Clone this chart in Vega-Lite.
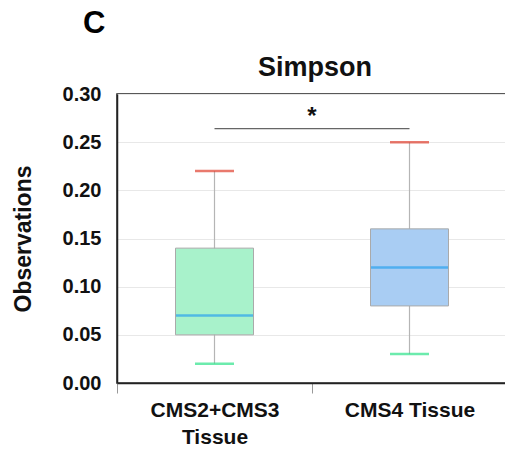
{
  "$schema": "https://vega.github.io/schema/vega-lite/v6.json",
  "autosize": "none",
  "padding": {"left": 117, "top": 94, "right": 0, "bottom": 67},
  "width": 390,
  "height": 289,
  "background": "white",
  "config": {
    "font": "Liberation Sans",
    "view": {"stroke": "#222", "strokeWidth": 1.5}
  },
  "title": {"text": "C", "anchor": "start", "frame": "group", "fontSize": 31, "fontWeight": "bold", "color": "black", "dx": -34, "offset": 14},
  "datasets": {
    "boxes": [
      {"group": "CMS2+CMS3 Tissue", "min": 0.02, "q1": 0.05, "median": 0.07, "q3": 0.14, "max": 0.22},
      {"group": "CMS4 Tissue", "min": 0.03, "q1": 0.08, "median": 0.12, "q3": 0.16, "max": 0.25}
    ],
    "sig": [
      {"from": "CMS2+CMS3 Tissue", "to": "CMS4 Tissue", "y": 0.264, "ystar": 0.276, "label": "*"}
    ],
    "head": [
      {"group": "CMS4 Tissue", "y": 0.327, "label": "Simpson"}
    ]
  },
  "encoding": {
    "x": {
      "field": "group", "type": "nominal",
      "scale": {"domain": ["CMS2+CMS3 Tissue", "CMS4 Tissue"], "paddingInner": 0, "paddingOuter": 0},
      "axis": {
        "title": null, "labelAngle": 0, "labelFontSize": 21, "labelFontWeight": "bold", "labelColor": "#111",
        "labelPadding": 6, "labelLineHeight": 27,
        "labelExpr": "datum.label == 'CMS2+CMS3 Tissue' ? ['CMS2+CMS3', 'Tissue'] : datum.label",
        "tickBand": "extent", "tickSize": 10, "tickColor": "#999", "domainColor": "#222", "domainWidth": 1.5, "grid": false
      }
    }
  },
  "layer": [
    {
      "data": {"name": "boxes"},
      "mark": {"type": "rule", "color": "#b5b5b5", "strokeWidth": 1.2},
      "encoding": {
        "y": {"field": "min", "type": "quantitative",
          "scale": {"domain": [0, 0.3], "nice": false, "zero": true},
          "axis": {"title": "Observations", "titleFontSize": 23, "titleFontWeight": "bold", "titleColor": "#111", "titlePadding": 27,
            "values": [0, 0.05, 0.1, 0.15, 0.2, 0.25, 0.3], "format": ".2f",
            "labelFontSize": 20, "labelFontWeight": "bold", "labelColor": "#111", "labelPadding": 16,
            "ticks": false, "domainColor": "#222", "domainWidth": 1.5, "gridColor": "#e8e8e8", "gridWidth": 1}},
        "y2": {"field": "max"}
      }
    },
    {
      "data": {"name": "boxes"},
      "mark": {"type": "bar", "size": 78, "stroke": "#aaaaaa", "strokeWidth": 1},
      "encoding": {
        "y": {"field": "q1", "type": "quantitative"},
        "y2": {"field": "q3"},
        "color": {"field": "group", "type": "nominal", "scale": {"domain": ["CMS2+CMS3 Tissue", "CMS4 Tissue"], "range": ["#a8f2cb", "#a9cdf3"]}, "legend": null}
      }
    },
    {
      "data": {"name": "boxes"},
      "mark": {"type": "tick", "size": 77, "thickness": 2.5, "color": "#2ba3ee"},
      "encoding": {"y": {"field": "median", "type": "quantitative"}}
    },
    {
      "data": {"name": "boxes"},
      "mark": {"type": "tick", "size": 39, "thickness": 2.5, "color": "#e0402f"},
      "encoding": {"y": {"field": "max", "type": "quantitative"}}
    },
    {
      "data": {"name": "boxes"},
      "mark": {"type": "tick", "size": 39, "thickness": 2.5, "color": "#2ee38a"},
      "encoding": {"y": {"field": "min", "type": "quantitative"}}
    },
    {
      "data": {"name": "sig"},
      "mark": {"type": "rule", "color": "#666", "strokeWidth": 1.2},
      "encoding": {
        "x": {"field": "from", "type": "nominal"},
        "x2": {"field": "to"},
        "y": {"field": "y", "type": "quantitative"}
      }
    },
    {
      "data": {"name": "sig"},
      "mark": {"type": "text", "fontSize": 24, "fontWeight": "bold", "color": "#111", "baseline": "middle"},
      "encoding": {
        "x": {"field": "to", "type": "nominal", "bandPosition": 0},
        "y": {"field": "ystar", "type": "quantitative"},
        "text": {"field": "label"}
      }
    },
    {
      "data": {"name": "head"},
      "mark": {"type": "text", "fontSize": 27, "fontWeight": "bold", "color": "#111", "baseline": "middle", "dx": 3},
      "encoding": {
        "x": {"field": "group", "type": "nominal", "bandPosition": 0},
        "y": {"field": "y", "type": "quantitative"},
        "text": {"field": "label"}
      }
    }
  ]
}
